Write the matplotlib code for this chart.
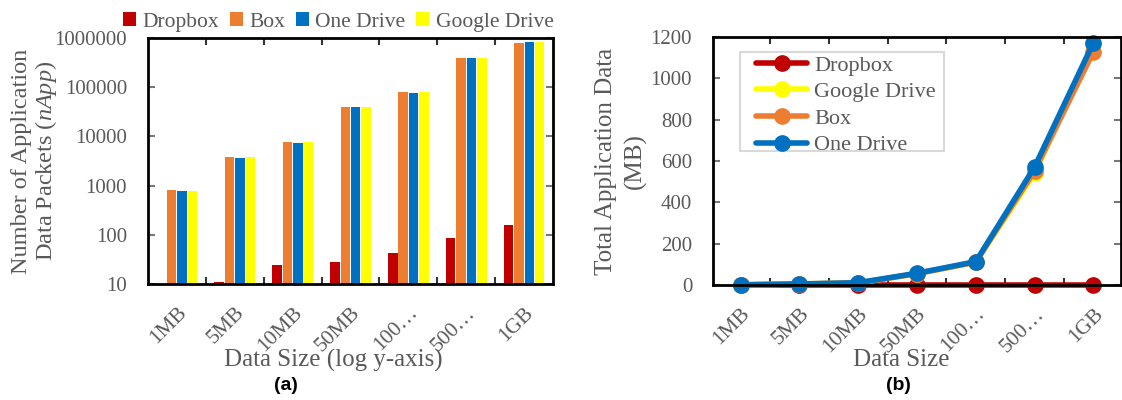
import matplotlib
matplotlib.use("Agg")
import matplotlib.pyplot as plt
from matplotlib.patches import Rectangle
import numpy as np

plt.rcParams['font.family'] = ['Liberation Serif', 'DejaVu Serif']
plt.rcParams['mathtext.fontset'] = 'custom'
plt.rcParams['mathtext.it'] = 'Liberation Serif:italic'
plt.rcParams['mathtext.rm'] = 'Liberation Serif'

categories = ["1MB", "5MB", "10MB", "50MB", "100…", "500…", "1GB"]

# (a) number of application data packets
pk_dropbox = [0, 11, 24, 28, 42, 86, 158]
pk_box = [820, 3880, 7850, 38900, 78700, 390000, 800000]
pk_onedrive = [785, 3700, 7500, 38900, 75000, 390000, 840000]
pk_google = [770, 3880, 7850, 38900, 78700, 390000, 840000]

# (b) total application data (MB)
mb_dropbox = [0, 0, 0, 0, 0, 0, 0]
mb_google = [1, 5, 10, 55, 110, 540, 1160]
mb_box = [1, 5, 10, 55, 111, 552, 1128]
mb_onedrive = [1, 5, 11, 57, 113, 571, 1172]

C_RED = "#C00000"
C_ORANGE = "#ED7D31"
C_BLUE = "#0070C0"
C_YELLOW = "#FFFF00"
GRAY = "#595959"

fig = plt.figure(figsize=(11.22, 4.0), dpi=100)
ax1 = fig.add_axes([148/1122, 1-284/400, (553-148)/1122, (284-38)/400])
ax2 = fig.add_axes([713/1122, 1-285/400, (1121-713)/1122, (285-37)/400])

x = np.arange(len(categories))
bw = 0.165
step = 0.18
series_a = [("Dropbox", pk_dropbox, C_RED), ("Box", pk_box, C_ORANGE),
            ("One Drive", pk_onedrive, C_BLUE), ("Google Drive", pk_google, C_YELLOW)]
for i, (name, vals, col) in enumerate(series_a):
    v = np.array(vals, dtype=float)
    v = np.where(v <= 0, np.nan, v)
    ax1.bar(x + (i - 1.5) * step, v, width=bw, color=col, label=name, bottom=0)
ax1.set_yscale('log')
ax1.set_ylim(10, 1000000)
ax1.set_xlim(-0.5, len(categories) - 0.5)
ax1.set_yticks([10, 100, 1000, 10000, 100000, 1000000])
ax1.set_yticklabels(["10", "100", "1000", "10000", "100000", "1000000"])
ax1.yaxis.set_minor_locator(matplotlib.ticker.NullLocator())

for ax in (ax1, ax2):
    ax.set_xticks(x)
    ax.set_xticklabels(categories, rotation=45, ha='right', va='top', rotation_mode='anchor')
    ax.set_xticks(np.arange(len(categories) - 1) + 0.5, minor=True)
    ax.tick_params(axis='x', which='major', length=0, labelsize=15.5, colors=GRAY, pad=14)
    ax.tick_params(axis='x', which='minor', direction='in', length=5, width=1.5,
                   top=True, bottom=True, color='#333333')
    ax.tick_params(axis='y', which='major', direction='in', length=5, width=1.5,
                   right=True, left=True, labelsize=15, colors=GRAY, color='#777777',
                   pad=15)
    for s in ax.spines.values():
        s.set_linewidth(2)
        s.set_color('black')

ax1.set_ylabel("Number of Application\nData Packets ($\\mathit{nApp}$)", fontsize=17.5,
               color=GRAY, labelpad=-3, linespacing=1.05)
ax1.set_xlabel("Data Size (log y-axis)", fontsize=18, color=GRAY)
ax1.xaxis.set_label_coords((333 - 148) / (553 - 148), -0.262)
leg1 = ax1.legend(loc='lower center', bbox_to_anchor=(0.47, 0.99), ncol=4, frameon=False,
                  fontsize=15.5, handlelength=0.6, handleheight=0.6, handletextpad=0.3,
                  columnspacing=0.5, borderaxespad=0)
for t in leg1.get_texts():
    t.set_color(GRAY)

series_b = [("Dropbox", mb_dropbox, C_RED), ("Google Drive", mb_google, C_YELLOW),
            ("Box", mb_box, C_ORANGE), ("One Drive", mb_onedrive, C_BLUE)]
for name, vals, col in series_b:
    ax2.plot(x, vals, color=col, lw=4, marker='o', markersize=11, label=name,
             solid_capstyle='round', clip_on=False)
ax2.set_ylim(0, 1200)
ax2.set_xlim(-0.47, len(categories) - 0.53)
ax2.set_yticks(np.arange(0, 1201, 200))
ax2.set_ylabel("Total Application Data\n(MB)", fontsize=18, color=GRAY, labelpad=3,
               linespacing=1.35)
ax2.set_xlabel("Data Size", fontsize=18, color=GRAY)
ax2.xaxis.set_label_coords((901 - 713) / (1121 - 713), -0.258)

# legend frame drawn separately to match the reference padding
ax2.add_patch(Rectangle((0.066, 0.540), 0.500, 0.400, transform=ax2.transAxes,
                        facecolor='white', edgecolor='#D9D9D9', lw=1.5, zorder=4))
leg2 = ax2.legend(loc='upper left', bbox_to_anchor=(0.106, 0.927), fontsize=16,
                  frameon=False, handlelength=2.3, handletextpad=0.3, labelspacing=0.27,
                  borderpad=0, borderaxespad=0)
leg2.set_zorder(5)
for t in leg2.get_texts():
    t.set_color(GRAY)

fig.text(286/1122, 1-386/400, "(a)", fontsize=14, fontweight='bold',
         family='Liberation Sans', ha='center', va='center')
fig.text(898/1122, 1-386/400, "(b)", fontsize=14, fontweight='bold',
         family='Liberation Sans', ha='center', va='center')

fig.savefig("out.png", dpi=100)
